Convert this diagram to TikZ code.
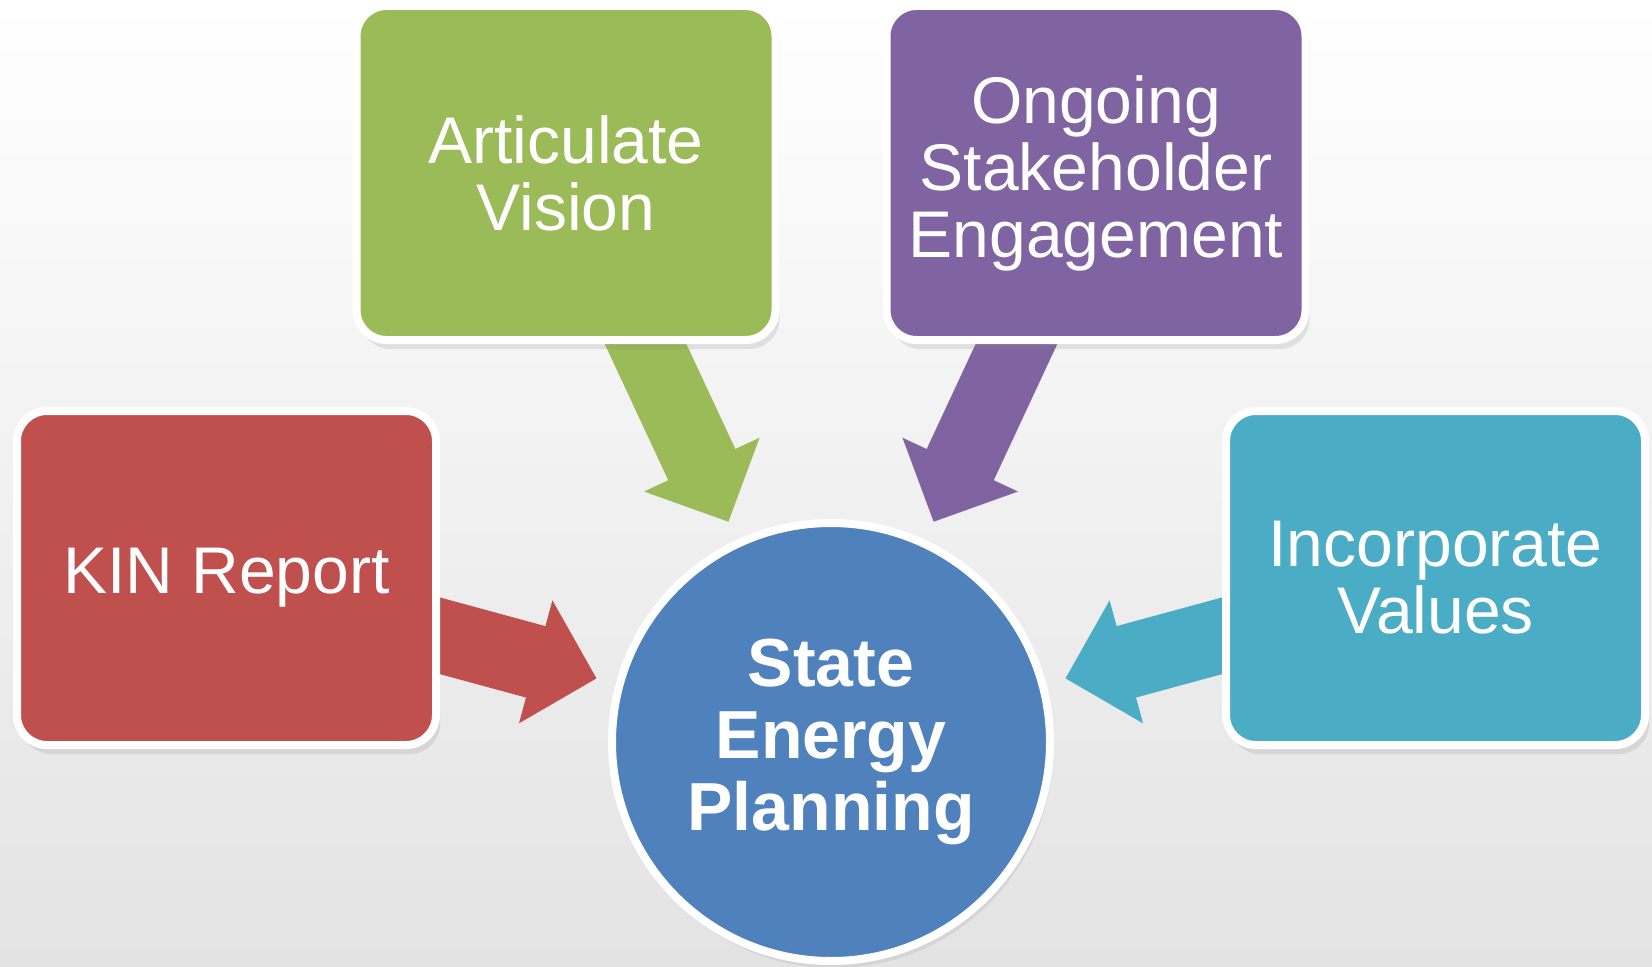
\documentclass[tikz,border=0pt]{standalone}
\usepackage{fontspec}
\setmainfont{Liberation Sans}
\usetikzlibrary{arrows.meta,shadows}

\definecolor{kinred}{RGB}{192,80,77}
\definecolor{visgreen}{RGB}{155,187,89}
\definecolor{engpurple}{RGB}{128,100,162}
\definecolor{valteal}{RGB}{75,172,198}
\definecolor{sepblue}{RGB}{79,129,189}

\pgfdeclarelayer{backdrop}
\pgfdeclarelayer{arrowlayer}
\pgfsetlayers{backdrop,arrowlayer,main}

\tikzset{
  stepbox/.style={draw=white, line width=4pt, rounded corners=15pt,
    minimum width=209.5pt, minimum height=167pt, inner sep=0pt,
    text=white, align=center, font=\fontsize{33}{33.5}\selectfont,
    drop shadow={shadow xshift=2pt, shadow yshift=-4.5pt, opacity=.18}},
  hub/.style={circle, draw=white, line width=4pt, fill=sepblue,
    minimum size=219pt, inner sep=0pt, text=white, align=center,
    font=\bfseries\fontsize{34}{35.8}\selectfont,
    drop shadow={shadow xshift=1.5pt, shadow yshift=-3.5pt, opacity=.15}},
  feed/.style={line width=37pt, shorten >=10pt, shorten <=-15pt,
    -{Triangle[length=31.5pt, width=63.5pt, line width=1.2pt 0 0]}}
}

\begin{document}
\begin{tikzpicture}[x=0.5pt,y=0.5pt]
\useasboundingbox (0,0) rectangle (1652,966);
\begin{pgfonlayer}{backdrop}
\shade[top color=white, middle color=black!3, bottom color=black!11] (0,0) rectangle (1652,966);
\end{pgfonlayer}

% the four inputs
\node[stepbox, fill=kinred] (kin) at (226.5,388) {KIN Report};
\node[stepbox, fill=visgreen] (vision) at (566,793) {Articulate\\Vision};
\node[stepbox, fill=engpurple] (engage) at (1096,793) {Ongoing\\Stakeholder\\Engagement};
\node[stepbox, fill=valteal] (values) at (1435.5,388) {Incorporate\\Values};

% centre
\node[hub] (sep) at (831,224) {State\\Energy\\Planning};

\begin{pgfonlayer}{arrowlayer}
\draw[feed, kinred] (kin) -- (sep);
\draw[feed, visgreen] (vision) -- (sep);
\draw[feed, engpurple] (engage) -- (sep);
\draw[feed, valteal] (values) -- (sep);
\end{pgfonlayer}
\end{tikzpicture}
\end{document}
